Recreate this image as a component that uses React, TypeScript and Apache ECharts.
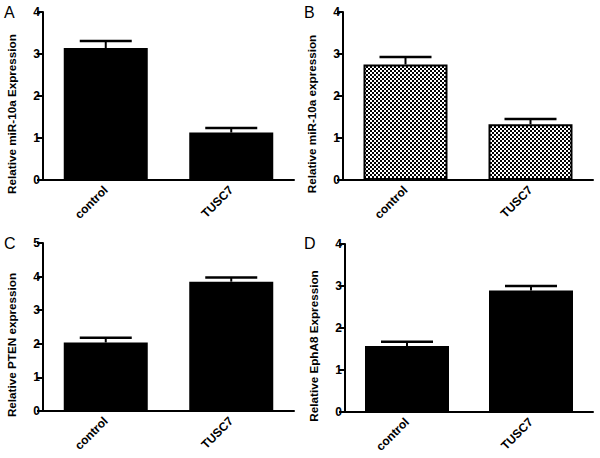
import React, { useEffect, useRef } from "react";
import * as echarts from "echarts";

const categories = ["control", "TUSC7"];
const aMean = [3.14, 1.13];
const aErr = [0.17, 0.11];
const bMean = [2.75, 1.33];
const bErr = [0.18, 0.12];
const cMean = [2.04, 3.85];
const cErr = [0.14, 0.12];
const dMean = [1.57, 2.89];
const dErr = [0.1, 0.11];
const yMaxes = [4, 4, 5, 4];
const yTitles = [
  "Relative miR-10a Expression",
  "Relative miR-10a expression",
  "Relative PTEN expression",
  "Relative EphA8 Expression",
];
const panelLetters = ["A", "B", "C", "D"];

const FONT = "Liberation Sans, Arial, sans-serif";

const checkerSvg =
  '<svg xmlns="http://www.w3.org/2000/svg" width="4" height="4"><rect width="4" height="4" fill="#fff"/><rect x="0" y="0" width="2" height="2" fill="#000"/><rect x="2" y="2" width="2" height="2" fill="#000"/></svg>';
const checkerUrl = "data:image/svg+xml;charset=utf-8," + encodeURIComponent(checkerSvg);

export default function App() {
  const ref = useRef<HTMLDivElement>(null);
  useEffect(() => {
    if (!ref.current) return;
    const chart = echarts.init(ref.current, null, { renderer: "svg" });
    const grids = [
      { left: 43, top: 12, width: 251, height: 168 },
      { left: 343, top: 12, width: 250, height: 168 },
      { left: 43, top: 243, width: 251, height: 168 },
      { left: 345, top: 244, width: 248, height: 168 },
    ];
    const means = [aMean, bMean, cMean, dMean];
    const errs = [aErr, bErr, cErr, dErr];
    const xAxes = grids.map((_, i) => ({
      type: "category",
      gridIndex: i,
      data: categories,
      axisLine: { lineStyle: { color: "#000", width: 2 } },
      axisTick: { alignWithLabel: true, length: 6, lineStyle: { color: "#000", width: 2 } },
      axisLabel: {
        rotate: 45,
        color: "#000",
        fontFamily: FONT,
        fontWeight: "bold",
        fontSize: 12,
        margin: 8,
      },
    }));
    const yAxes = grids.map((_, i) => ({
      type: "value",
      gridIndex: i,
      min: 0,
      max: yMaxes[i],
      interval: 1,
      name: yTitles[i],
      nameLocation: "middle",
      nameGap: 26,
      nameTextStyle: {
        color: "#000",
        fontFamily: FONT,
        fontWeight: "bold",
        fontSize: 11.7,
        padding: [0, 36, 0, 0],
      },
      splitLine: { show: false },
      axisLine: { show: true, lineStyle: { color: "#000", width: 2 } },
      axisTick: { show: true, length: 6, lineStyle: { color: "#000", width: 2 } },
      axisLabel: {
        color: "#000",
        fontFamily: FONT,
        fontWeight: "bold",
        fontSize: 12,
        margin: 3,
      },
    }));
    const series: any[] = [];
    grids.forEach((_, i) => {
      const fill =
        i === 1
          ? { image: checkerUrl, repeat: "repeat", imageWidth: 4, imageHeight: 4 }
          : "#000";
      series.push({
        type: "bar",
        xAxisIndex: i,
        yAxisIndex: i,
        data: means[i],
        barWidth: 84,
        itemStyle: { color: fill, borderColor: "#000", borderWidth: 2 },
        z: 2,
      });
      series.push({
        type: "custom",
        xAxisIndex: i,
        yAxisIndex: i,
        z: 3,
        data: means[i].map((m, j) => [j, m, errs[i][j]]),
        renderItem: (params: any, api: any) => {
          const x = api.value(0);
          const m = api.value(1);
          const e = api.value(2);
          const p0 = api.coord([x, m]);
          const p1 = api.coord([x, m + e]);
          return {
            type: "group",
            children: [
              {
                type: "line",
                shape: { x1: p0[0], y1: p0[1], x2: p1[0], y2: p1[1] },
                style: { stroke: "#000", lineWidth: 2 },
              },
              {
                type: "line",
                shape: { x1: p1[0] - 26, y1: p1[1], x2: p1[0] + 26, y2: p1[1] },
                style: { stroke: "#000", lineWidth: 2.5 },
              },
            ],
          };
        },
      });
    });
    const letterPos = [
      [4, 4],
      [304, 4],
      [4, 235],
      [304, 235],
    ];
    chart.setOption({
      animation: false,
      backgroundColor: "#fff",
      grid: grids.map((g) => ({ ...g, containLabel: false })),
      xAxis: xAxes,
      yAxis: yAxes,
      series,
      graphic: panelLetters.map((t, i) => ({
        type: "text",
        left: letterPos[i][0],
        top: letterPos[i][1],
        style: { text: t, fill: "#000", font: `16px ${FONT}` },
      })),
    } as any);
    return () => chart.dispose();
  }, []);
  return (
    <div
      ref={ref}
      style={{ width: 600, height: 458, position: "absolute", left: 0, top: 0, background: "#fff" }}
    />
  );
}
